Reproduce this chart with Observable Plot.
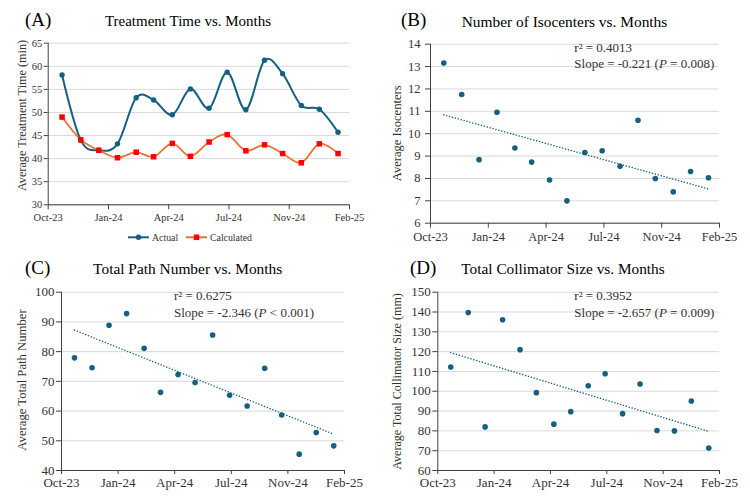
<!DOCTYPE html>
<html><head><meta charset="utf-8">
<script src="https://cdn.jsdelivr.net/npm/d3@7"></script>
<script src="https://cdn.jsdelivr.net/npm/@observablehq/plot@0.6"></script>
<style>
html,body{margin:0;padding:0;background:#fff;}
#root{position:relative;width:750px;height:499px;overflow:hidden;background:#fff;}
.panel{position:absolute;}
.panel svg{overflow:visible;}
#overlay{position:absolute;left:0;top:0;pointer-events:none;}
</style></head><body><div id="root"></div>
<script>
// ---------- data ----------
const months = ["2023-10","2023-11","2023-12","2024-01","2024-02","2024-03","2024-04","2024-05",
                "2024-06","2024-07","2024-08","2024-09","2024-10","2024-11","2024-12","2025-01"];
const dayOfMonth = 24;
const actualTime     = [58.1, 44.0, 41.8, 43.2, 53.2, 52.7, 49.5, 55.1, 50.9, 58.7, 50.6, 61.3, 58.4, 51.5, 50.7, 45.7];
const calculatedTime = [49.0, 44.1, 41.8, 40.2, 41.4, 40.4, 43.3, 40.5, 43.6, 45.2, 41.7, 43.0, 41.1, 39.1, 43.2, 41.1];
const isocenters     = [13.16, 11.75, 8.84, 10.96, 9.36, 8.73, 7.93, 7.0, 9.16, 9.24, 8.54, 10.6, 8.0, 7.4, 8.31, 8.03];
const pathNumber     = [77.9, 74.6, 88.9, 92.8, 81.1, 66.3, 72.3, 69.6, 85.6, 65.3, 61.7, 74.4, 58.7, 45.5, 52.8, 48.3];
const collimatorSize = [112.2, 139.7, 82.0, 136.1, 121.0, 99.3, 83.4, 89.7, 102.8, 108.8, 88.7, 103.7, 80.2, 80.0, 95.1, 71.3];

const xDomain   = ["2023-10-01", "2025-02-12"];
const tickDates = ["2023-10-01", "2024-01-09", "2024-04-18", "2024-07-27", "2024-11-04", "2025-02-12"];
const tickLabels = ["Oct-23", "Jan-24", "Apr-24", "Jul-24", "Nov-24", "Feb-25"];

const ticksA = [30, 35, 40, 45, 50, 55, 60, 65];
const ticksB = [6, 7, 8, 9, 10, 11, 12, 13, 14];
const ticksC = [40, 50, 60, 70, 80, 90, 100];
const ticksD = [60, 70, 80, 90, 100, 110, 120, 130, 140, 150];

// ---------- helpers ----------
const FONT = '"Liberation Serif","Times New Roman",serif';
const BLUE = "#156082", ORANGE = "#E97132", RED = "#FF0000";
const AXIS = "#404040", GRID = "#d9d9d9", TXT = "#333333";
const parse = s => new Date(s + "T00:00:00Z");
const toDate = m => { const [y, mo] = m.split("-").map(Number); return new Date(Date.UTC(y, mo - 1, dayOfMonth)); };
const labelByTime = new Map(tickDates.map((d, i) => [+parse(d), tickLabels[i]]));
const rows = months.map((m, i) => ({
  date: toDate(m), actual: actualTime[i], calculated: calculatedTime[i],
  iso: isocenters[i], path: pathNumber[i], coll: collimatorSize[i]
}));

const root = document.getElementById("root");

function panel(cfg) {
  const yd = [cfg.ticks[0], cfg.ticks[cfg.ticks.length - 1]];
  const chart = Plot.plot({
    width: cfg.w, height: cfg.h,
    marginLeft: cfg.ml, marginRight: cfg.mr, marginTop: cfg.mt, marginBottom: cfg.mb,
    style: {fontFamily: FONT, fontSize: cfg.fs + "px", color: TXT, background: "none"},
    x: {type: "utc", domain: xDomain.map(parse)},
    y: {domain: yd},
    marks: [
      Plot.gridY({ticks: cfg.ticks, stroke: GRID, strokeOpacity: 1, strokeWidth: 1}),
      Plot.axisY({ticks: cfg.ticks, tickSize: cfg.yts, tickPadding: cfg.ytp, label: null, fontSize: cfg.fs, stroke: AXIS, fill: TXT, tickFormat: d => String(d)}),
      Plot.axisX({ticks: tickDates.map(parse), tickSize: cfg.xts, tickPadding: cfg.xtp, label: null, fontSize: cfg.fs, stroke: AXIS, fill: TXT, tickFormat: d => labelByTime.get(+d)}),
      Plot.ruleY([yd[0]], {stroke: AXIS, strokeWidth: 1}),
      Plot.ruleX([parse(xDomain[0])], {stroke: AXIS, strokeWidth: 1}),
      ...cfg.marks
    ]
  });
  const div = document.createElement("div");
  div.className = "panel";
  div.style.left = cfg.left + "px";
  div.style.top = cfg.top + "px";
  div.appendChild(chart);
  root.appendChild(div);
}

function scatterMarks(key) {
  return [
    Plot.linearRegressionY(rows, {x: "date", y: key, ci: 0, stroke: BLUE, strokeWidth: 1.5,
      strokeLinecap: "round", strokeDasharray: "0.01,3"}),
    Plot.dot(rows, {x: "date", y: key, r: 2.8, fill: BLUE, stroke: "none"})
  ];
}

// (A) Treatment time
panel({left: 0, top: 0, w: 375, h: 250, ml: 47.7, mr: 26, mt: 42.7, mb: 45.7, fs: 10.5,
  ticks: ticksA, yts: 4, ytp: 2, xts: 5, xtp: 3.5,
  marks: [
    Plot.line(rows, {x: "date", y: "actual", curve: "cardinal", stroke: BLUE, strokeWidth: 2}),
    Plot.dot(rows, {x: "date", y: "actual", r: 2.7, fill: BLUE, stroke: "none"}),
    Plot.line(rows, {x: "date", y: "calculated", curve: "cardinal", stroke: ORANGE, strokeWidth: 1.75}),
    Plot.dot(rows, {x: "date", y: "calculated", symbol: "square", r: 3.1, fill: RED, stroke: "none"})
  ]});

// (B) Isocenters
panel({left: 375, top: 0, w: 375, h: 250, ml: 55, mr: 31, mt: 43.7, mb: 27.3, fs: 12.5,
  ticks: ticksB, yts: 5, ytp: 5, xts: 5, xtp: 3.5, marks: scatterMarks("iso")});

// (C) Path number
panel({left: 0, top: 250, w: 375, h: 249, ml: 61, mr: 31, mt: 41.7, mb: 29, fs: 13,
  ticks: ticksC, yts: 5, ytp: 2, xts: 4, xtp: 3.5, marks: scatterMarks("path")});

// (D) Collimator size
panel({left: 375, top: 250, w: 375, h: 249, ml: 62.3, mr: 31, mt: 41.7, mb: 29, fs: 13,
  ticks: ticksD, yts: 5, ytp: 2, xts: 4, xtp: 3.5, marks: scatterMarks("coll")});

// ---------- overlay text ----------
const NS = "http://www.w3.org/2000/svg";
const ov = document.createElementNS(NS, "svg");
ov.setAttribute("id", "overlay");
ov.setAttribute("width", 750); ov.setAttribute("height", 499);
ov.style.fontFamily = FONT;
root.appendChild(ov);
function txt(x, y, s, size, opts = {}) {
  const t = document.createElementNS(NS, "text");
  t.setAttribute("x", x); t.setAttribute("y", y);
  t.setAttribute("font-size", size);
  t.setAttribute("fill", opts.fill || "#000");
  if (opts.anchor) t.setAttribute("text-anchor", opts.anchor);
  if (opts.transform) t.setAttribute("transform", opts.transform);
  if (opts.dy) t.setAttribute("dy", opts.dy);
  if (Array.isArray(s)) {
    s.forEach(part => {
      const sp = document.createElementNS(NS, "tspan");
      sp.textContent = part.t;
      if (part.i) sp.setAttribute("font-style", "italic");
      t.appendChild(sp);
    });
  } else t.textContent = s;
  ov.appendChild(t);
  return t;
}
function ylab(cx, cy, s, size) {
  txt(0, 0, s, size, {anchor: "middle", transform: `translate(${cx},${cy}) rotate(-90)`, dy: "0.33em", fill: TXT});
}

// Panel letters & titles
txt(25, 26, "(A)", 19);
txt(188, 26, "Treatment Time vs. Months", 15, {anchor: "middle"});
txt(401, 26, "(B)", 19);
txt(564.5, 26.5, "Number of Isocenters vs. Months", 15.4, {anchor: "middle"});
txt(25, 274, "(C)", 19);
txt(187.7, 274, "Total Path Number vs. Months", 15.4, {anchor: "middle"});
txt(410, 274, "(D)", 19);
txt(563, 274, "Total Collimator Size vs. Months", 15.3, {anchor: "middle"});

// Y axis titles
ylab(21.7, 115.5, "Average Treatment Time (min)", 12.2);
ylab(396.7, 133.3, "Average Isocenters", 12.6);
ylab(21.7, 380, "Average Total Path Number", 12.7);
ylab(397, 381.5, "Average Total Collimator Size (mm)", 12.1);

// Regression annotations
const rB = "r\u00B2 = 0.4013", rC = "r\u00B2 = 0.6275", rD = "r\u00B2 = 0.3952";
txt(574.3, 52, rB, 13, {fill: TXT});
txt(574.3, 68, [{t: "Slope = -0.221 ("}, {t: "P", i: true}, {t: " = 0.008)"}], 13, {fill: TXT});
txt(174, 300, rC, 13, {fill: TXT});
txt(174, 316.7, [{t: "Slope = -2.346 ("}, {t: "P", i: true}, {t: " < 0.001)"}], 13, {fill: TXT});
txt(574.3, 300, rD, 13, {fill: TXT});
txt(574.3, 316.7, [{t: "Slope = -2.657 ("}, {t: "P", i: true}, {t: " = 0.009)"}], 13, {fill: TXT});

// Legend for (A)
const legendItems = [
  {label: "Actual", x0: 128, color: BLUE, marker: "circle"},
  {label: "Calculated", x0: 186, color: ORANGE, marker: "square"}
];
legendItems.forEach(it => {
  const ly = 237.3;
  const ln = document.createElementNS(NS, "line");
  ln.setAttribute("x1", it.x0); ln.setAttribute("x2", it.x0 + 21);
  ln.setAttribute("y1", ly); ln.setAttribute("y2", ly);
  ln.setAttribute("stroke", it.color); ln.setAttribute("stroke-width", 2);
  ov.appendChild(ln);
  if (it.marker === "circle") {
    const c = document.createElementNS(NS, "circle");
    c.setAttribute("cx", it.x0 + 10.5); c.setAttribute("cy", ly); c.setAttribute("r", 2.7);
    c.setAttribute("fill", BLUE); ov.appendChild(c);
  } else {
    const r = document.createElementNS(NS, "rect");
    r.setAttribute("x", it.x0 + 10.5 - 2.75); r.setAttribute("y", ly - 2.75);
    r.setAttribute("width", 5.5); r.setAttribute("height", 5.5);
    r.setAttribute("fill", RED); ov.appendChild(r);
  }
  txt(it.x0 + 24, 240.5, it.label, 9.8, {fill: TXT});
});
</script></body></html>
